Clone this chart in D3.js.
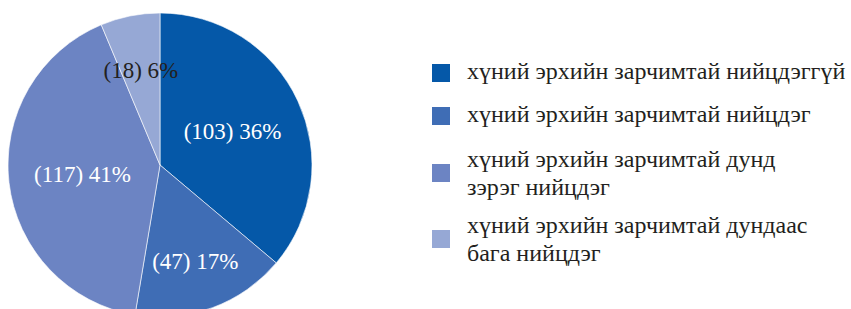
<!DOCTYPE html>
<html>
<head>
<meta charset="utf-8">
<script src="https://cdn.jsdelivr.net/npm/d3@7"></script>
<style>
  body { margin: 0; background: #fff; }
  svg text { font-family: "Liberation Serif", "DejaVu Serif", serif; }
</style>
</head>
<body>
<div id="chart"></div>
<script>
// data
var categories = [
  "хүний эрхийн зарчимтай нийцдэггүй",
  "хүний эрхийн зарчимтай нийцдэг",
  "хүний эрхийн зарчимтай дунд|зэрэг нийцдэг",
  "хүний эрхийн зарчимтай дундаас|бага нийцдэг"
];
var counts = [103, 47, 117, 18];
var percents = [36, 17, 41, 6];

var colors = ["#0558a8", "#3f6db5", "#6c84c3", "#96a8d5"];
var labelColors = ["#fff", "#fff", "#fff", "#231f20"];
var labelRadius = [80, 102, 78, 97];

var width = 851, height = 309;
var cx = 160, cy = 165, radius = 152;

const svg = d3.select("#chart")
  .append("svg")
    .attr("width", width)
    .attr("height", height);

var data = counts.map(function(c, i) {
  return {name: categories[i], count: c, pct: percents[i], i: i};
});

var pie = d3.pie()
  .sort(null)
  .value(d => d.count);

var arc = d3.arc()
  .innerRadius(0)
  .outerRadius(radius);

var arcs = pie(data);

const g = svg.append("g")
  .attr("transform", `translate(${cx},${cy})`);

g.selectAll("path")
  .data(arcs)
  .join("path")
    .attr("d", arc)
    .attr("fill", d => colors[d.data.i])
    .attr("stroke", "#fff")
    .attr("stroke-width", 0.6);

// slice labels
g.selectAll("text.lbl")
  .data(arcs)
  .join("text")
    .attr("class", "lbl")
    .attr("transform", function(d) {
      var r = labelRadius[d.data.i];
      var a = d3.arc().innerRadius(r).outerRadius(r);
      return `translate(${a.centroid(d)})`;
    })
    .attr("text-anchor", "middle")
    .attr("dy", "0.35em")
    .style("font-size", "23px")
    .attr("fill", d => labelColors[d.data.i])
    .text(d => `(${d.data.count}) ${d.data.pct}%`);

// legend
var legendY = d3.scaleOrdinal()
  .domain(d3.range(categories.length))
  .range([73, 116, 173, 239]);

const legend = svg.append("g")
  .selectAll("g")
  .data(data)
  .join("g")
    .attr("transform", d => `translate(432,${legendY(d.i)})`);

legend.append("rect")
  .attr("x", 0)
  .attr("y", -9)
  .attr("width", 18)
  .attr("height", 18)
  .attr("fill", d => colors[d.i]);

legend.each(function(d) {
  var lines = d.name.split("|");
  var t = d3.select(this).append("text")
    .attr("x", 35)
    .attr("fill", "#231f20")
    .style("font-size", "24px");
  var start = lines.length === 1 ? 6 : -6;
  lines.forEach(function(l, k) {
    t.append("tspan")
      .attr("x", 35)
      .attr("y", start + k * 28)
      .text(l);
  });
});
</script>
</body>
</html>
